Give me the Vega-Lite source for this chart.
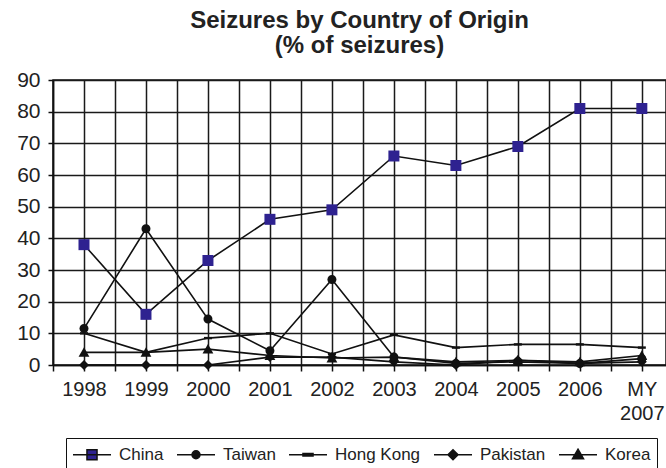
{
  "$schema": "https://vega.github.io/schema/vega-lite/v6.json",
  "width": 613,
  "height": 285,
  "autosize": {"type": "none"},
  "padding": {"left": 53, "top": 80, "right": 0, "bottom": 103},
  "background": "white",
  "config": {
    "font": "Liberation Sans",
    "view": {"stroke": "#111", "strokeWidth": 1.5},
    "axis": {"gridColor": "#1a1a1a", "gridWidth": 1.5, "gridOpacity": 1, "domainColor": "#111", "domainWidth": 1.5, "tickColor": "#111", "tickWidth": 1.5, "labelColor": "#222", "labelFont": "Liberation Sans"}
  },
  "title": {
    "text": ["Seizures by Country of Origin", "(% of seizures)"],
    "fontSize": 24,
    "fontWeight": "bold",
    "color": "#222",
    "anchor": "middle",
    "frame": "group",
    "offset": 11,
    "lineHeight": 25
  },
  "data": {
    "values": [
      {"country": "China", "year": 1998, "value": 38},
      {"country": "China", "year": 1999, "value": 16},
      {"country": "China", "year": 2000, "value": 33},
      {"country": "China", "year": 2001, "value": 46},
      {"country": "China", "year": 2002, "value": 49},
      {"country": "China", "year": 2003, "value": 66},
      {"country": "China", "year": 2004, "value": 63},
      {"country": "China", "year": 2005, "value": 69},
      {"country": "China", "year": 2006, "value": 81},
      {"country": "China", "year": 2007, "value": 81},
      {"country": "Taiwan", "year": 1998, "value": 11.5},
      {"country": "Taiwan", "year": 1999, "value": 43},
      {"country": "Taiwan", "year": 2000, "value": 14.5},
      {"country": "Taiwan", "year": 2001, "value": 4.5},
      {"country": "Taiwan", "year": 2002, "value": 27},
      {"country": "Taiwan", "year": 2003, "value": 2.5},
      {"country": "Taiwan", "year": 2004, "value": 0.5},
      {"country": "Taiwan", "year": 2005, "value": 1},
      {"country": "Taiwan", "year": 2006, "value": 0.5},
      {"country": "Taiwan", "year": 2007, "value": 2},
      {"country": "Hong Kong", "year": 1998, "value": 10},
      {"country": "Hong Kong", "year": 1999, "value": 4},
      {"country": "Hong Kong", "year": 2000, "value": 8.5},
      {"country": "Hong Kong", "year": 2001, "value": 10},
      {"country": "Hong Kong", "year": 2002, "value": 3.5},
      {"country": "Hong Kong", "year": 2003, "value": 9.5},
      {"country": "Hong Kong", "year": 2004, "value": 5.5},
      {"country": "Hong Kong", "year": 2005, "value": 6.5},
      {"country": "Hong Kong", "year": 2006, "value": 6.5},
      {"country": "Hong Kong", "year": 2007, "value": 5.5},
      {"country": "Pakistan", "year": 1998, "value": 0},
      {"country": "Pakistan", "year": 1999, "value": 0},
      {"country": "Pakistan", "year": 2000, "value": 0},
      {"country": "Pakistan", "year": 2001, "value": 2.5},
      {"country": "Pakistan", "year": 2002, "value": 2.5},
      {"country": "Pakistan", "year": 2003, "value": 1},
      {"country": "Pakistan", "year": 2004, "value": 0},
      {"country": "Pakistan", "year": 2005, "value": 1.5},
      {"country": "Pakistan", "year": 2006, "value": 0.5},
      {"country": "Pakistan", "year": 2007, "value": 1},
      {"country": "Korea", "year": 1998, "value": 4},
      {"country": "Korea", "year": 1999, "value": 4},
      {"country": "Korea", "year": 2000, "value": 5},
      {"country": "Korea", "year": 2001, "value": 3},
      {"country": "Korea", "year": 2002, "value": 2.2},
      {"country": "Korea", "year": 2003, "value": 2.5},
      {"country": "Korea", "year": 2004, "value": 1},
      {"country": "Korea", "year": 2005, "value": 1.5},
      {"country": "Korea", "year": 2006, "value": 1},
      {"country": "Korea", "year": 2007, "value": 3}
    ]
  },
  "encoding": {
    "x": {
      "field": "year",
      "type": "quantitative",
      "scale": {"domain": [1997.5, 2007.39], "nice": false, "zero": false},
      "axis": {
        "title": null,
        "values": [1997.5, 1998, 1998.5, 1999, 1999.5, 2000, 2000.5, 2001, 2001.5, 2002, 2002.5, 2003, 2003.5, 2004, 2004.5, 2005, 2005.5, 2006, 2006.5, 2007],
        "labelExpr": "datum.value % 1 != 0 ? '' : (datum.value == 2007 ? ['MY', '2007'] : '' + datum.value)",
        "labelFontSize": 20,
        "labelLineHeight": 24,
        "tickSize": 6,
        "labelPadding": 8,
        "labelFlush": false,
        "labelOverlap": false
      }
    },
    "y": {
      "field": "value",
      "type": "quantitative",
      "scale": {"domain": [0, 90], "nice": false},
      "axis": {
        "title": null,
        "values": [0, 10, 20, 30, 40, 50, 60, 70, 80, 90],
        "labelFontSize": 21,
        "tickSize": 5,
        "labelPadding": 8
      }
    }
  },
  "layer": [
    {
      "mark": {"type": "line", "color": "#111", "strokeWidth": 1.6},
      "encoding": {"detail": {"field": "country"}}
    },
    {
      "mark": {"type": "point", "filled": true, "opacity": 1, "size": 64},
      "encoding": {
        "fill": {"condition": {"test": "datum.country == 'China'", "value": "#2e2290"}, "value": "#111"},
        "shape": {
          "field": "country",
          "type": "nominal",
          "scale": {
            "domain": ["China", "Taiwan", "Hong Kong", "Pakistan", "Korea"],
            "range": [
              "M-1.375,-1.375H1.375V1.375H-1.375Z",
              "M1.125,0A1.125,1.125 0 1 1 -1.125,0A1.125,1.125 0 1 1 1.125,0Z",
              "M-1,-0.3H1V0.3H-1Z",
              "M0,-1.25L1.25,0L0,1.25L-1.25,0Z",
              "M0,-1.3L1.35,1.1H-1.35Z"
            ]
          },
          "legend": null
        }
      }
    },
    {
      "mark": {"type": "point", "filled": false, "opacity": 0, "size": 361, "strokeWidth": 1.5},
      "encoding": {
        "fill": {
          "field": "country",
          "type": "nominal",
          "scale": {
            "domain": ["China", "Taiwan", "Hong Kong", "Pakistan", "Korea"],
            "range": ["#2e2290", "#111", "#111", "#111", "#111"]
          },
          "legend": {
            "orient": "none",
            "legendX": 13,
            "legendY": 358,
            "direction": "horizontal",
            "title": null,
            "strokeColor": "#111",
            "padding": 6,
            "symbolSize": 361,
            "symbolOpacity": 1,
            "symbolFillColor": "#111",
            "labelFontSize": 17,
            "labelColor": "#222",
            "labelOffset": 26,
            "columnPadding": 10,
            "symbolStrokeWidth": 1.5,
            "symbolStrokeColor": "#111"
          }
        },
        "stroke": {
          "field": "country",
          "type": "nominal",
          "scale": {
            "domain": ["China", "Taiwan", "Hong Kong", "Pakistan", "Korea"],
            "range": ["#111", "#111", "#111", "#111", "#111"]
          },
          "legend": {
            "orient": "none",
            "legendX": 13,
            "legendY": 358,
            "direction": "horizontal",
            "title": null,
            "strokeColor": "#111",
            "padding": 6,
            "symbolSize": 361,
            "symbolOpacity": 1,
            "symbolFillColor": "#111",
            "labelFontSize": 17,
            "labelColor": "#222",
            "labelOffset": 26,
            "columnPadding": 10,
            "symbolStrokeWidth": 1.5,
            "symbolStrokeColor": "#111"
          }
        },
        "shape": {
          "field": "country",
          "type": "nominal",
          "scale": {
            "domain": ["China", "Taiwan", "Hong Kong", "Pakistan", "Korea"],
            "range": [
              "M-1,0H3M0.47,-0.53H1.53V0.53H0.47Z",
              "M-1,0H3M1.42,0A0.42,0.42 0 1 1 0.58,0A0.42,0.42 0 1 1 1.42,0Z",
              "M-1,0H3M0.47,-0.13H1.53V0.13H0.47Z",
              "M-1,0H3M1,-0.53L1.53,0L1,0.53L0.47,0Z",
              "M-1,0H3M1,-0.58L1.58,0.42H0.42Z"
            ]
          },
          "legend": {
            "orient": "none",
            "legendX": 13,
            "legendY": 358,
            "direction": "horizontal",
            "title": null,
            "strokeColor": "#111",
            "padding": 6,
            "symbolSize": 361,
            "symbolOpacity": 1,
            "symbolFillColor": "#111",
            "labelFontSize": 17,
            "labelColor": "#222",
            "labelOffset": 26,
            "columnPadding": 10,
            "symbolStrokeWidth": 1.5,
            "symbolStrokeColor": "#111"
          }
        }
      }
    }
  ],
  "resolve": {
    "scale": {"shape": "independent", "fill": "independent", "stroke": "independent"},
    "legend": {"shape": "independent", "fill": "independent", "stroke": "independent"}
  }
}
